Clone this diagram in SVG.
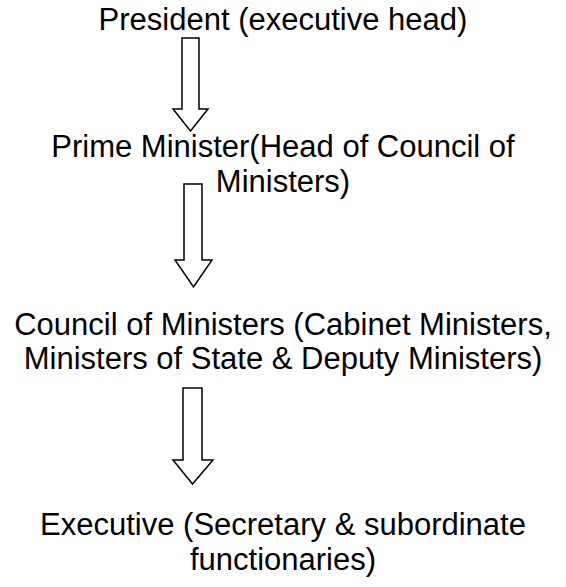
<svg xmlns="http://www.w3.org/2000/svg" width="566" height="587" viewBox="0 0 566 587">
<style>
.t{font-family:"Liberation Sans",Arial,sans-serif;font-size:31px;fill:#000;text-anchor:middle}
.a{fill:#fff;stroke:#000;stroke-width:1.5;stroke-linejoin:miter}
</style>
<rect width="566" height="587" fill="#fff"/>
<g id="connectors">
<polygon class="a" points="182,38 199,38 199,109 208,109 190.5,131 173,109 182,109"/>
<polygon class="a" points="184,184 202,184 202,260 212,260 193.5,287 175,260 184,260"/>
<polygon class="a" points="183,388 202,388 202,460 213,460 192.5,484 173,460 183,460"/>
</g>
<g id="president"><text class="t" x="283" y="30">President (executive head)</text></g>
<g id="pm"><text class="t" x="283" y="157">Prime Minister(Head of Council of</text><text class="t" x="283" y="192">Ministers)</text></g>
<g id="council"><text class="t" x="283" y="335">Council of Ministers (Cabinet Ministers,</text><text class="t" x="283" y="369">Ministers of State &amp; Deputy Ministers)</text></g>
<g id="executive"><text class="t" x="283" y="535">Executive (Secretary &amp; subordinate</text><text class="t" x="283" y="570">functionaries)</text></g>
</svg>
